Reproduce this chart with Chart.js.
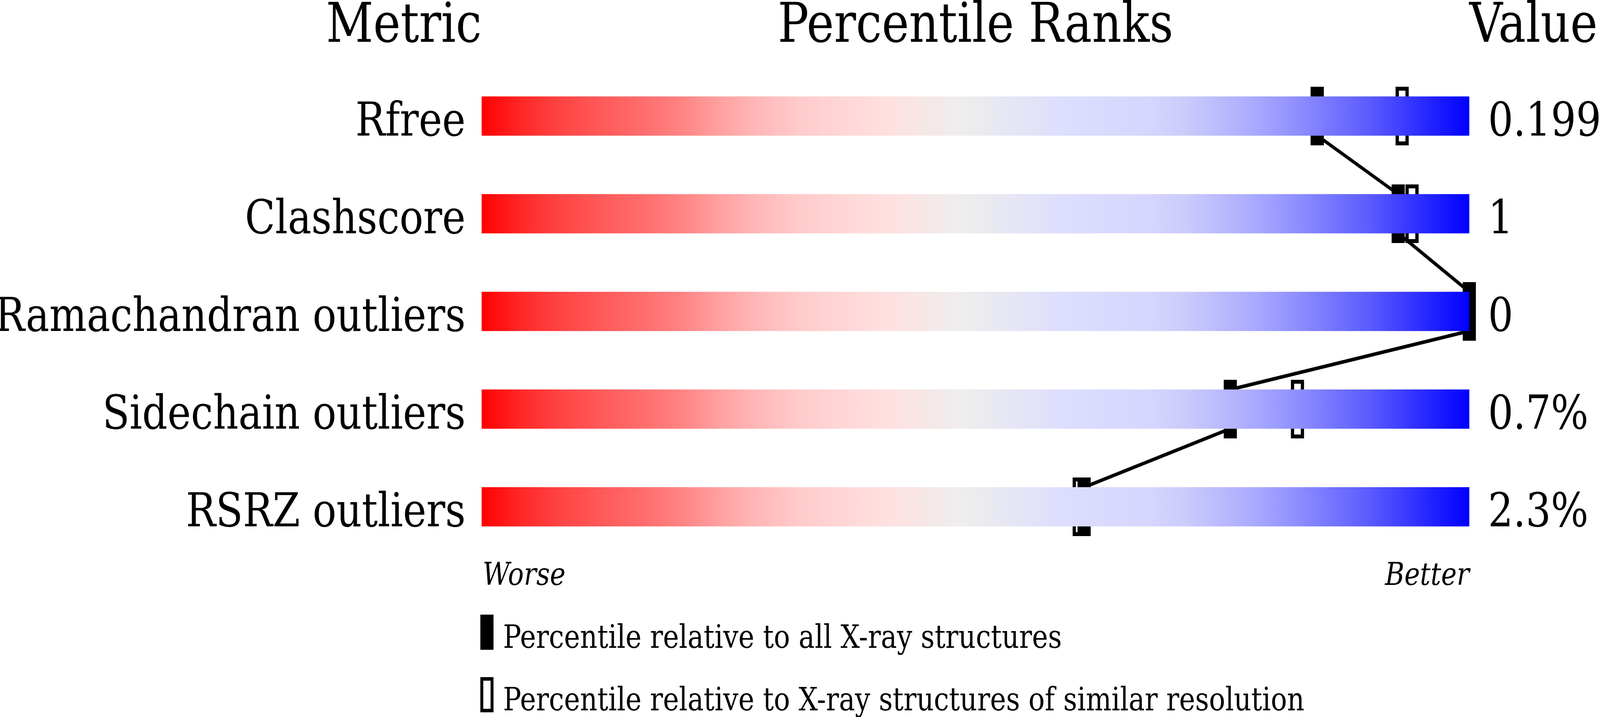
<!DOCTYPE html>
<html>
<head>
<meta charset="utf-8">
<script src="https://cdn.jsdelivr.net/npm/chart.js@4"></script>
<style>
    html, body { margin: 0; padding: 0; background: #ffffff; overflow: hidden; }
    #wrap { width: 4860px; height: 1835px; position: absolute; left: 0; top: 0; transform-origin: 0 0; }
</style>
</head>
<body>
<div id="wrap"><canvas id="sliderChart"></canvas></div>
<script>
// ======================================================
// PERCENTILE SLIDERS — VALIDATION METRICS
// ======================================================

const metrics = ["Rfree", "Clashscore", "Ramachandran outliers", "Sidechain outliers", "RSRZ outliers"];
const metricValues = ["0.199", "1", "0", "0.7%", "2.3%"];
const pctAll = [84.6, 92.8, 100, 75.8, 61.0];
const pctSimilar = [93.2, 94.2, 100, 82.6, 60.5];
const trackFull = [100, 100, 100, 100, 100];
const legendLabels = ["Percentile relative to all X-ray structures", "Percentile relative to X-ray structures of similar resolution"];

const FONT = "'DejaVu Serif', serif";

// the drawing is laid out for 4860x1835, stretched to whatever the window is
const wrap = document.getElementById("wrap");
wrap.style.transform = "scale(" + (window.innerWidth / 4860) + "," + (window.innerHeight / 1835) + ")";

function makeMarker(w, h, hollow) {
    const c = document.createElement("canvas");
    c.width = w;
    c.height = h;
    const g = c.getContext("2d");
    g.fillStyle = "#000000";
    g.fillRect(0, 0, w, h);
    if (hollow) g.clearRect(10, 10, w - 20, h - 20);
    return c;
}

function createGradient(ctx, area) {
    const gradient = ctx.createLinearGradient(area.left, 0, area.right, 0);
    gradient.addColorStop(0.00, "#ff0000");
    gradient.addColorStop(0.04, "#ff2828");
    gradient.addColorStop(0.08, "#ff4444");
    gradient.addColorStop(0.12, "#ff5959");
    gradient.addColorStop(0.16, "#ff6b6b");
    gradient.addColorStop(0.20, "#ff8282");
    gradient.addColorStop(0.24, "#ffa0a0");
    gradient.addColorStop(0.28, "#ffb8b8");
    gradient.addColorStop(0.32, "#ffcaca");
    gradient.addColorStop(0.36, "#ffd5d5");
    gradient.addColorStop(0.41, "#ffe0e0");
    gradient.addColorStop(0.487, "#eeeeee");
    gradient.addColorStop(0.524, "#e8e8f2");
    gradient.addColorStop(0.587, "#dedeff");
    gradient.addColorStop(0.674, "#d6d6fe");
    gradient.addColorStop(0.711, "#ccccfb");
    gradient.addColorStop(0.786, "#a8a8ff");
    gradient.addColorStop(0.824, "#9090ff");
    gradient.addColorStop(0.861, "#7575ff");
    gradient.addColorStop(0.898, "#5c5cff");
    gradient.addColorStop(0.936, "#3a3aff");
    gradient.addColorStop(1.00, "#0000ff");
    return gradient;
}

const solidMarker = makeMarker(40, 150, false);
const hollowMarker = makeMarker(40, 150, true);

// line between solid markers: bottom of one track to top of the next
const connectorPlugin = {
    id: "connector",
    beforeDatasetDraw(chart, args) {
        if (args.index !== 1) return;
        const ctx = chart.ctx;
        const x = chart.scales.x;
        const bars = chart.getDatasetMeta(0).data;
        ctx.save();
        ctx.strokeStyle = "#000000";
        ctx.lineWidth = 9;
        ctx.beginPath();
        for (let i = 0; i < pctAll.length - 1; i++) {
            ctx.moveTo(x.getPixelForValue(pctAll[i]), bars[i].y + bars[i].height / 2);
            ctx.lineTo(x.getPixelForValue(pctAll[i + 1]), bars[i + 1].y - bars[i + 1].height / 2);
        }
        ctx.stroke();
        ctx.restore();
    }
};

const textPlugin = {
    id: "texts",
    afterDraw(chart) {
        const ctx = chart.ctx;
        const area = chart.chartArea;
        const y = chart.scales.y;
        ctx.save();
        ctx.fillStyle = "#000000";
        ctx.strokeStyle = "#000000";
        ctx.textBaseline = "alphabetic";

        ctx.font = "140px " + FONT;
        ctx.textAlign = "right";
        ctx.fillText("Metric", area.left, 107);
        ctx.textAlign = "center";
        ctx.fillText("Percentile Ranks", (area.left + area.right) / 2, 107);
        ctx.textAlign = "left";
        ctx.fillText("Value", area.right, 107);

        ctx.font = "120px " + FONT;
        metrics.forEach((m, i) => {
            const cy = y.getPixelForValue(i);
            ctx.textAlign = "right";
            ctx.fillText(m, area.left - 49, cy + 50);
            ctx.textAlign = "left";
            ctx.fillText(metricValues[i], area.right + 57, cy + 50);
        });

        ctx.font = "italic 80px " + FONT;
        ctx.textAlign = "left";
        ctx.fillText("Worse", area.left + 3, 1497);
        ctx.textAlign = "right";
        ctx.fillText("Better", area.right, 1497);

        // legend
        ctx.fillRect(1459, 1573, 40, 90);
        ctx.lineWidth = 9;
        ctx.strokeRect(1463.5, 1737.5, 31, 81);
        ctx.font = "82px " + FONT;
        ctx.textAlign = "left";
        ctx.fillText(legendLabels[0], 1528, 1658);
        ctx.fillText(legendLabels[1], 1528, 1818);
        ctx.restore();
    }
};

new Chart(document.getElementById("sliderChart"), {
    type: "bar",
    data: {
        labels: metrics,
        datasets: [
            {
                type: "bar",
                indexAxis: "y",
                data: trackFull,
                backgroundColor: (c) => {
                    const area = c.chart.chartArea;
                    if (!area) return "#dddddd";
                    return createGradient(c.chart.ctx, area);
                },
                borderWidth: 0,
                barThickness: 100
            },
            {
                type: "scatter",
                data: pctSimilar.map((v, i) => ({ x: v, y: metrics[i] })),
                pointStyle: hollowMarker,
                clip: false
            },
            {
                type: "scatter",
                data: pctAll.map((v, i) => ({ x: v, y: metrics[i] })),
                pointStyle: solidMarker,
                clip: false
            }
        ]
    },
    options: {
        responsive: true,
        maintainAspectRatio: false,
        animation: false,
        events: [],
        layout: { padding: { left: 1463, right: 397, top: 172, bottom: 413 } },
        plugins: { legend: { display: false }, tooltip: { enabled: false } },
        scales: {
            x: { type: "linear", min: 0, max: 100, offset: false, display: false },
            y: { type: "category", labels: metrics, offset: true, display: false }
        }
    },
    plugins: [connectorPlugin, textPlugin]
});
</script>
</body>
</html>
